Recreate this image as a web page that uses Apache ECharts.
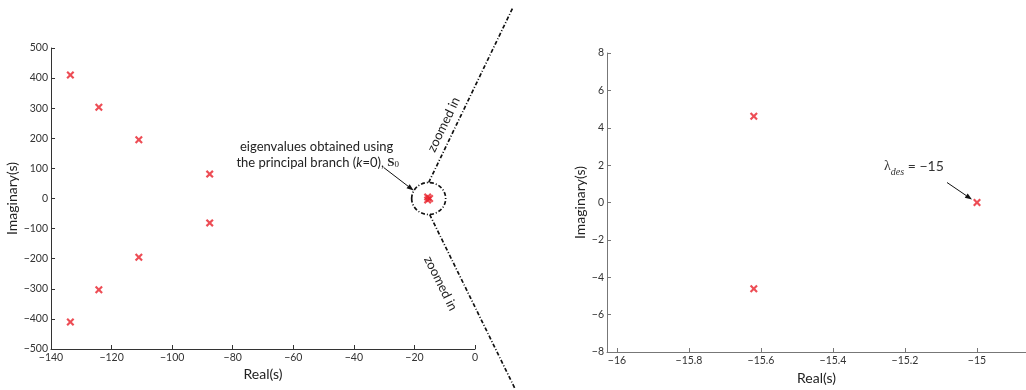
<!DOCTYPE html>
<html><head><meta charset="utf-8">
<script src="https://cdn.jsdelivr.net/npm/echarts@6/dist/echarts.min.js"></script>
<style>html,body{margin:0;padding:0;background:#fff}#c{width:1026px;height:390px}</style>
</head><body><div id="c"></div>
<script>
// Left panel: all eigenvalues
const leftReal = [-133.6, -133.6, -124.2, -124.2, -111.0, -111.0, -87.6, -87.6, -15.62, -15.62, -15.0];
const leftImag = [410, -410, 303, -303, 195, -195, 81, -81, 4.62, -4.62, 0];
// Right panel: zoomed-in principal branch eigenvalues
const rightReal = [-15.62, -15.62, -15.0];
const rightImag = [4.62, -4.62, 0];
// Tick values
const leftXTicks = [-140, -120, -100, -80, -60, -40, -20, 0];
const leftYTicks = [-500, -400, -300, -200, -100, 0, 100, 200, 300, 400, 500];
const rightXTicks = [-16, -15.8, -15.6, -15.4, -15.2, -15];
const rightYTicks = [-8, -6, -4, -2, 0, 2, 4, 6, 8];
// Annotation anchors (data coordinates)
const clusterCenter = [-15.3, 0];
const lambdaPoint = [-15, 0];
const annoLine1 = 'eigenvalues obtained using';
const annoLine2 = 'the principal branch (';
const zoomText = 'zoomed in';

const FONT = 'Lato, "Noto Sans", sans-serif';
const fmt = v => String(+(+v).toFixed(1)).replace('-', '\u2212');
const xPath = 'path://M0,1.9L1.9,0L5,3.1L8.1,0L10,1.9L6.9,5L10,8.1L8.1,10L5,6.9L1.9,10L0,8.1L3.1,5Z';
const RED = '#e8212a';

function axisCommon(color) {
  return {
    axisLine: {show: true, onZero: false, lineStyle: {color: color, width: 1}},
    axisTick: {show: true, inside: true, length: 4, lineStyle: {color: color}},
    splitLine: {show: false},
    axisLabel: {color: '#333', fontSize: 10.5, fontFamily: FONT, margin: 3, formatter: fmt},
    nameTextStyle: {color: '#222', fontSize: 14, fontFamily: FONT},
    nameLocation: 'middle'
  };
}

const chart = echarts.init(document.getElementById('c'), null, {renderer: 'canvas'});
const ax = (c, extra) => Object.assign(axisCommon(c), extra);

chart.setOption({
  animation: false,
  grid: [
    {left: 51, top: 48, width: 424, height: 301},
    {left: 607, top: 53, width: 419, height: 300}
  ],
  xAxis: [
    ax('#333', {type: 'value', gridIndex: 0, min: -140, max: 0, interval: 20, name: 'Real(s)', nameGap: 15}),
    (function(){ const a = ax('#777', {type: 'value', gridIndex: 1, min: -16 - 10/360, max: -16 - 10/360 + 419/360, name: 'Real(s)', nameGap: 19});
      a.axisLabel = Object.assign({}, a.axisLabel, {customValues: rightXTicks});
      a.axisTick = Object.assign({}, a.axisTick, {customValues: rightXTicks});
      return a; })()
  ],
  yAxis: [
    ax('#333', {type: 'value', gridIndex: 0, min: -500, max: 500, interval: 100, name: 'Imaginary(s)', nameGap: 29}),
    ax('#777', {type: 'value', gridIndex: 1, min: -8, max: 8, interval: 2, name: 'Imaginary(s)', nameGap: 17})
  ],
  series: [
    {type: 'scatter', xAxisIndex: 0, yAxisIndex: 0, symbol: xPath, symbolSize: 8,
     itemStyle: {color: RED}, data: leftReal.map((x, i) => [x, leftImag[i]])},
    {type: 'scatter', xAxisIndex: 1, yAxisIndex: 1, symbol: xPath, symbolSize: 8,
     itemStyle: {color: RED}, data: rightReal.map((x, i) => [x, rightImag[i]])}
  ]
});

function arrow(x1, y1, x2, y2) {
  const a = Math.atan2(y2 - y1, x2 - x1), L = 7, W = 2.6;
  const bx = x2 - L * Math.cos(a), by = y2 - L * Math.sin(a);
  const px = -Math.sin(a) * W, py = Math.cos(a) * W;
  return [
    {type: 'line', shape: {x1, y1, x2: bx, y2: by}, style: {stroke: '#111', lineWidth: 1}},
    {type: 'polygon', shape: {points: [[x2, y2], [bx + px, by + py], [bx - px, by - py]]}, style: {fill: '#111'}}
  ];
}

const c = chart.convertToPixel({xAxisIndex: 0, yAxisIndex: 0}, clusterCenter);
const lp = chart.convertToPixel({xAxisIndex: 1, yAxisIndex: 1}, lambdaPoint);
const cx = c[0], cy = c[1];
const dash = {stroke: '#111', lineWidth: 1.7, lineDash: [4, 2, 1, 2], fill: null};
const up = [cx + 84, 8], dn = [cx + 86, 388];
const ang1 = Math.atan2(cy - 16 - up[1], up[0] - cx);
const ang2 = Math.atan2(dn[1] - (cy + 16), dn[0] - cx);

let g = [
  {type: 'ellipse', shape: {cx: cx, cy: cy, rx: 17, ry: 16}, style: dash},
  {type: 'line', shape: {x1: cx, y1: cy - 16, x2: up[0], y2: up[1]}, style: dash},
  {type: 'line', shape: {x1: cx + 1, y1: cy + 16, x2: dn[0], y2: dn[1]}, style: dash},
  {type: 'text', x: cx + 15, y: cy - 74, rotation: ang1,
   style: {text: zoomText, fill: '#222', fontSize: 13, fontFamily: FONT, align: 'center', verticalAlign: 'middle'}},
  {type: 'text', x: cx + 12, y: cy + 85, rotation: -ang2,
   style: {text: zoomText, fill: '#222', fontSize: 13, fontFamily: FONT, align: 'center', verticalAlign: 'middle'}},
  {type: 'text', x: cx - 112, y: cy - 52,
   style: {text: annoLine1, fill: '#222', fontSize: 13, fontFamily: FONT, align: 'center', verticalAlign: 'middle'}},
  {type: 'text', x: cx - 111, y: cy - 36,
   style: {text: '{n|' + annoLine2 + '}{i|k}{n|=0), }{b|S}{s|0}', align: 'center', verticalAlign: 'middle',
     rich: {n: {fill: '#222', fontSize: 13, fontFamily: FONT},
            i: {fill: '#222', fontSize: 13, fontFamily: FONT, fontStyle: 'italic'},
            b: {fill: '#222', fontSize: 13, fontFamily: '"Liberation Serif", serif', fontWeight: 'bold'},
            s: {fill: '#222', fontSize: 9, fontFamily: '"Liberation Serif", serif', padding: [4, 0, 0, 0]}}}},
  {type: 'text', x: lp[0] - 93, y: lp[1] - 36,
   style: {text: '{l|\u03bb}{d|des}{e| = \u221215}', verticalAlign: 'middle',
     rich: {l: {fill: '#333', fontSize: 14, fontFamily: '"Liberation Serif", serif'},
            d: {fill: '#333', fontSize: 10, fontFamily: '"Liberation Serif", serif', fontStyle: 'italic', padding: [12, 0, 0, 0]},
            e: {fill: '#333', fontSize: 14, fontFamily: FONT}}}}
];
g = g.concat(arrow(cx - 45, cy - 31, cx - 15, cy - 8));
g = g.concat(arrow(lp[0] - 30, lp[1] - 20, lp[0] - 5, lp[1] - 3));
chart.setOption({graphic: g});
</script>
</body></html>
